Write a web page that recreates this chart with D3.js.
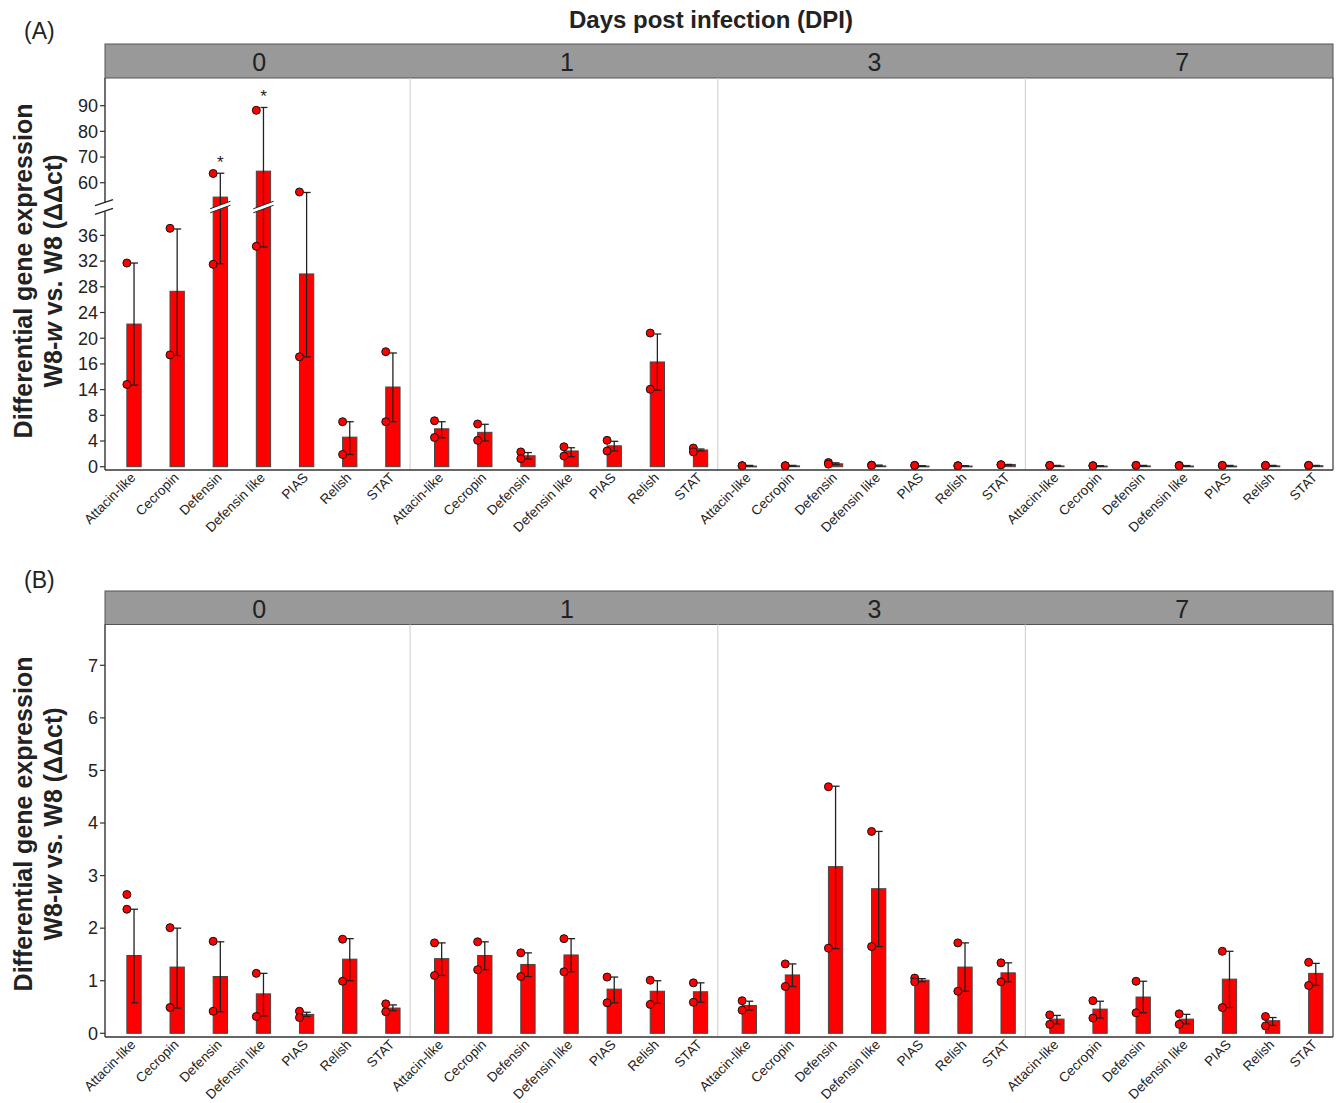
<!DOCTYPE html>
<html>
<head>
<meta charset="utf-8">
<script src="https://cdn.jsdelivr.net/npm/d3@7"></script>
<style>
  body { margin: 0; background: #fff; }
  text { font-family: Arial, "Liberation Sans", sans-serif; fill: #222; }
</style>
</head>
<body>
<svg id="chart"></svg>
<script>
// genes on the x axis, repeated in every day facet
const GENES = ["Attacin-like", "Cecropin", "Defensin", "Defensin like", "PIAS", "Relish", "STAT"];
const DAYS = ["0", "1", "3", "7"];

// ---- panel A: mean, error bar ends, the two replicate dots, significance ----
const A_MEAN = [
  [22.2, 27.3, 54.4, 64.5, 30.0, 4.6, 12.4],
  [5.9, 5.35, 1.7, 2.45, 3.25, 16.3, 2.6],
  [0.1, 0.12, 0.45, 0.12, 0.1, 0.1, 0.35],
  [0.12, 0.1, 0.12, 0.1, 0.1, 0.12, 0.15]
];
const A_LOW = [
  [12.7, 17.3, 31.6, 34.2, 17.1, 1.9, 7.0],
  [4.5, 4.0, 1.2, 1.55, 2.45, 11.9, 2.45],
  [0.1, 0.1, 0.35, 0.1, 0.08, 0.08, 0.25],
  [0.1, 0.08, 0.1, 0.08, 0.08, 0.1, 0.12]
];
const A_HIGH = [
  [31.7, 37.0, 63.7, 89.3, 56.2, 7.0, 17.7],
  [7.0, 6.6, 2.2, 2.95, 3.95, 20.65, 2.75],
  [0.2, 0.2, 0.6, 0.25, 0.15, 0.15, 0.35],
  [0.2, 0.15, 0.2, 0.18, 0.2, 0.2, 0.2]
];
const A_PTS = [
  [[31.7, 12.8], [37.1, 17.4], [63.6, 31.5], [88.2, 34.3], [56.4, 17.1], [7.0, 1.9], [17.9, 7.0]],
  [[7.15, 4.55], [6.65, 4.1], [2.3, 1.25], [3.1, 1.65], [4.1, 2.45], [20.8, 12.05], [2.9, 2.3]],
  [[0.15, 0.15], [0.15, 0.15], [0.65, 0.4], [0.25, 0.2], [0.2, 0.2], [0.15, 0.15], [0.3, 0.3]],
  [[0.2, 0.2], [0.15, 0.15], [0.2, 0.2], [0.2, 0.15], [0.2, 0.2], [0.2, 0.2], [0.2, 0.2]]
];
const A_SIG = [
  ["", "", "*", "*", "", "", ""],
  ["", "", "", "", "", "", ""],
  ["", "", "", "", "", "", ""],
  ["", "", "", "", "", "", ""]
];
// broken y axis of panel A (the "14" label is printed that way in the figure)
const A_TICKS_LOW = [0, 4, 8, 12, 16, 20, 24, 28, 32, 36];
const A_TICK_LABELS_LOW = ["0", "4", "8", "14", "16", "20", "24", "28", "32", "36"];
const A_TICKS_HIGH = [60, 70, 80, 90];

// ---- panel B ----
const B_MEAN = [
  [1.48, 1.26, 1.08, 0.75, 0.36, 1.41, 0.48],
  [1.42, 1.48, 1.31, 1.49, 0.84, 0.80, 0.79],
  [0.53, 1.11, 3.17, 2.75, 1.01, 1.26, 1.15],
  [0.27, 0.46, 0.69, 0.27, 1.03, 0.24, 1.14]
];
const B_LOW = [
  [0.58, 0.48, 0.41, 0.33, 0.32, 1.0, 0.43],
  [1.10, 1.21, 1.08, 1.17, 0.58, 0.57, 0.59],
  [0.44, 0.89, 1.61, 1.65, 0.98, 0.80, 0.98],
  [0.18, 0.29, 0.39, 0.18, 0.49, 0.15, 0.91]
];
const B_HIGH = [
  [2.36, 2.0, 1.74, 1.14, 0.4, 1.8, 0.54],
  [1.72, 1.74, 1.53, 1.80, 1.07, 1.00, 0.96],
  [0.61, 1.32, 4.70, 3.84, 1.04, 1.72, 1.34],
  [0.34, 0.61, 0.99, 0.36, 1.56, 0.30, 1.33]
];
const B_PTS = [
  [[2.64, 2.36], [2.01, 0.49], [1.75, 0.42], [1.14, 0.32], [0.42, 0.30], [1.79, 0.99], [0.56, 0.41]],
  [[1.72, 1.10], [1.74, 1.21], [1.53, 1.08], [1.80, 1.17], [1.07, 0.58], [1.01, 0.55], [0.96, 0.59]],
  [[0.62, 0.44], [1.32, 0.89], [4.69, 1.62], [3.84, 1.65], [1.05, 0.98], [1.72, 0.80], [1.34, 0.98]],
  [[0.35, 0.17], [0.62, 0.29], [0.99, 0.39], [0.37, 0.17], [1.56, 0.49], [0.32, 0.14], [1.35, 0.91]]
];
const B_TICKS = [0, 1, 2, 3, 4, 5, 6, 7];

const W = 1337, H = 1103;
const LEFT = 105, RIGHT = 1333;
const BAR_W = 14.3;
const RED = "#ff0000";

const svg = d3.select("#chart").attr("width", W).attr("height", H)
    .style("display", "block");

// facets: four equal columns, first one partly hidden behind the y axis
const facetX = d3.scaleBand().domain(DAYS).range([102.5, RIGHT]);

function geneScale(day){
  return d3.scaleBand().domain(GENES)
      .range([facetX(day), facetX(day) + facetX.bandwidth()])
      .paddingInner(0).paddingOuter(0.065);
}

function drawPanel(p){
  const g = svg.append("g");
  const y = p.y;

  // strip header
  g.append("rect").attr("x", LEFT).attr("y", p.stripTop)
      .attr("width", RIGHT - LEFT).attr("height", p.plotTop - p.stripTop)
      .attr("fill", "#999999").attr("stroke", "#555").attr("stroke-width", 1);
  DAYS.forEach(d => {
    g.append("text").attr("x", facetX(d) + facetX.bandwidth() / 2 + 3)
        .attr("y", (p.stripTop + p.plotTop) / 2 + 1).attr("dy", "0.36em")
        .attr("text-anchor", "middle").style("font-size", "25px").text(d);
  });

  // light separators between day facets
  DAYS.slice(1).forEach(d => {
    g.append("line").attr("x1", facetX(d)).attr("x2", facetX(d))
        .attr("y1", p.plotTop).attr("y2", p.axisY)
        .attr("stroke", "#d4d4d4").attr("stroke-width", 1.2);
  });

  DAYS.forEach((d, di) => {
    const x = geneScale(d);
    const half = x.bandwidth() / 2;
    GENES.forEach((gene, gi) => {
      const c = x(gene) + half;          // dots sit here
      const bc = c + BAR_W / 2;          // bar / error bar centre
      const m = p.mean[di][gi];

      g.append("rect").attr("x", c).attr("y", y(m))
          .attr("width", BAR_W).attr("height", Math.max(0.8, y(0) - y(m)))
          .attr("fill", RED).attr("stroke", "#444").attr("stroke-width", 1);

      const lo = p.low[di][gi], hi = p.high[di][gi];
      g.append("line").attr("x1", bc).attr("x2", bc)
          .attr("y1", y(lo)).attr("y2", y(hi))
          .attr("stroke", "#222").attr("stroke-width", 1.3);
      [lo, hi].forEach(v => {
        g.append("line").attr("x1", bc - 3).attr("x2", bc + 4)
            .attr("y1", y(v)).attr("y2", y(v))
            .attr("stroke", "#222").attr("stroke-width", 1.3);
      });

      // scale break drawn across tall bars
      if (p.breakAt && m > p.breakAt.top) {
        const yc = p.breakAt.y, x0 = c - 3, x1 = c + BAR_W + 3, s = 0.37;
        const yl = v => yc - (v - bc) * s;
        g.append("path")
            .attr("d", `M${x0},${yl(x0) - 2}L${x1},${yl(x1) - 2}L${x1},${yl(x1) + 2}L${x0},${yl(x0) + 2}Z`)
            .attr("fill", "#fff").attr("stroke", "none");
        [-2, 2].forEach(o => {
          g.append("line").attr("x1", x0).attr("x2", x1)
              .attr("y1", yl(x0) + o).attr("y2", yl(x1) + o)
              .attr("stroke", "#222").attr("stroke-width", 1);
        });
      }

      if (p.sig && p.sig[di][gi]) {
        g.append("text").attr("x", bc).attr("y", y(hi) - 5)
            .attr("text-anchor", "middle").style("font-size", "17px")
            .text(p.sig[di][gi]);
      }

      p.pts[di][gi].forEach(v => {
        g.append("circle").attr("cx", c).attr("cy", y(v)).attr("r", 4)
            .attr("fill", RED).attr("stroke", "#111").attr("stroke-width", 1);
      });

      // rotated gene label under the axis
      g.append("text")
          .attr("transform", `translate(${bc - 1},${p.axisY + 5}) rotate(-45)`)
          .attr("dy", "0.35em").attr("text-anchor", "end")
          .style("font-size", "13.5px").text(gene);
    });
  });

  // frame: y axis, x axis, right border
  g.append("line").attr("x1", LEFT).attr("x2", LEFT)
      .attr("y1", p.plotTop).attr("y2", p.axisY)
      .attr("stroke", "#333").attr("stroke-width", 1.4);
  g.append("line").attr("x1", LEFT).attr("x2", RIGHT)
      .attr("y1", p.axisY).attr("y2", p.axisY)
      .attr("stroke", "#333").attr("stroke-width", 1.6);
  g.append("line").attr("x1", RIGHT).attr("x2", RIGHT)
      .attr("y1", p.plotTop).attr("y2", p.axisY)
      .attr("stroke", "#555").attr("stroke-width", 1.4);

  // y ticks
  p.ticks.forEach((t, i) => {
    g.append("line").attr("x1", LEFT - 5).attr("x2", LEFT)
        .attr("y1", y(t)).attr("y2", y(t))
        .attr("stroke", "#333").attr("stroke-width", 1.2);
    g.append("text").attr("x", LEFT - 7).attr("y", y(t)).attr("dy", "0.35em")
        .attr("text-anchor", "end").style("font-size", "18px")
        .text(p.tickLabels[i]);
  });

  // "//" on the y axis
  if (p.breakAt) {
    const yc = p.breakAt.y;
    g.append("rect").attr("x", LEFT - 2).attr("y", yc - 4.3)
        .attr("width", 4).attr("height", 8.6).attr("fill", "#fff");
    [-4.3, 4.3].forEach(o => {
      g.append("line").attr("x1", LEFT - 10).attr("x2", LEFT + 8)
          .attr("y1", yc + o + 3).attr("y2", yc + o - 3)
          .attr("stroke", "#222").attr("stroke-width", 1.3);
    });
  }

  // two-line y title
  const ty = p.titleY;
  g.append("text").attr("transform", `translate(32,${ty}) rotate(-90)`)
      .attr("text-anchor", "middle").style("font-size", "25px")
      .style("font-weight", "bold").text("Differential gene expression");
  const t2 = g.append("text").attr("transform", `translate(62,${ty}) rotate(-90)`)
      .attr("text-anchor", "middle").style("font-size", "25px")
      .style("font-weight", "bold");
  t2.append("tspan").text("W8-");
  t2.append("tspan").style("font-style", "italic").text("w");
  t2.append("tspan").text(" vs. W8 (\u0394\u0394ct)");

  // panel letter
  svg.append("text").attr("x", 24).attr("y", p.letterY)
      .style("font-size", "23px").text(p.letter);
}

// panel A: broken scale, 0-40 below the break, 50-100 above
const yA = d3.scaleLinear().domain([0, 40, 50, 100]).range([466.7, 209.7, 208.4, 80]);
drawPanel({
  letter: "(A)", letterY: 39,
  stripTop: 44, plotTop: 78, axisY: 470,
  y: yA,
  ticks: A_TICKS_LOW.concat(A_TICKS_HIGH),
  tickLabels: A_TICK_LABELS_LOW.concat(A_TICKS_HIGH.map(String)),
  mean: A_MEAN, low: A_LOW, high: A_HIGH, pts: A_PTS, sig: A_SIG,
  breakAt: { top: 40, y: 207 },
  titleY: 271
});

const yB = d3.scaleLinear().domain([0, 7]).range([1033.3, 665.3]);
drawPanel({
  letter: "(B)", letterY: 588,
  stripTop: 591, plotTop: 624.5, axisY: 1037,
  y: yB,
  ticks: B_TICKS, tickLabels: B_TICKS.map(String),
  mean: B_MEAN, low: B_LOW, high: B_HIGH, pts: B_PTS, sig: null,
  breakAt: null,
  titleY: 824
});

// overall title
svg.append("text").attr("x", 711).attr("y", 28).attr("text-anchor", "middle")
    .style("font-size", "24px").style("font-weight", "bold")
    .text("Days post infection (DPI)");
</script>
</body>
</html>
